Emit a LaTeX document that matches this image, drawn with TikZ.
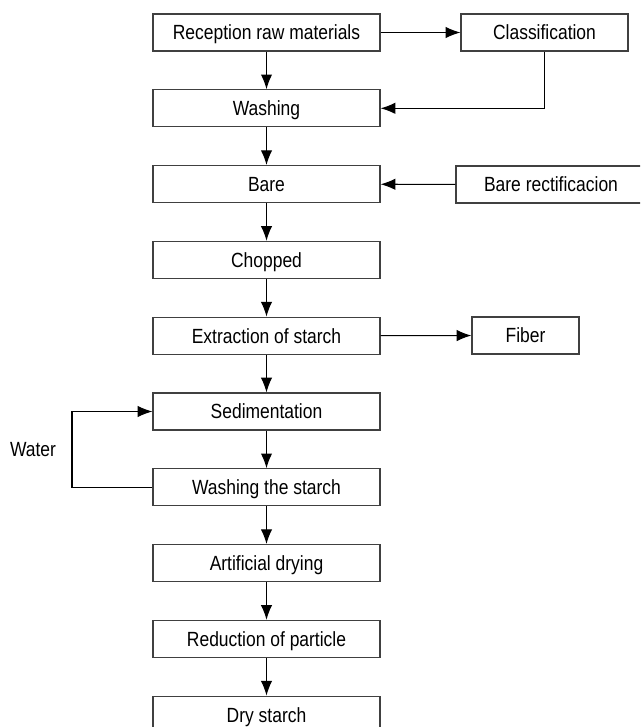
\documentclass[tikz,border=0pt]{standalone}
\usepackage{fontspec}
\setmainfont{Liberation Sans}[FakeStretch=0.85]
\usetikzlibrary{arrows.meta}
\begin{document}
\begin{tikzpicture}[x=0.75pt,y=-0.75pt,
  txt/.style={font=\fontsize{15.4}{17}\selectfont,text height=11.2pt,text depth=0pt},
  box/.style={draw=black!75,line width=0.9pt,minimum height=37*0.75pt,inner sep=0pt,txt},
  mainbox/.style={box,minimum width=227*0.75pt},
  arr/.style={line width=0.8pt,-{Latex[length=11pt,width=8.5pt]}},
  ln/.style={line width=0.8pt}]
\useasboundingbox (0,0) rectangle (640,727);
\begin{scope}
\clip (0,0) rectangle (640,727);
\foreach \n/\t [count=\i from 0] in {rec/Reception raw materials,was/Washing,bar/Bare,cho/Chopped,ext/Extraction of starch,sed/Sedimentation,wst/Washing the starch,art/Artificial drying,red/Reduction of particle,dry/Dry starch}{
  \node[mainbox] (\n) at (266.5,{14+18.5+75.8*\i}) {\t};
}
\node[box,minimum width=167*0.75pt] (cla) at (544.5,32.5) {Classification};
\node[box,minimum width=190*0.75pt] (brc) at (551,184.5) {Bare rectificacion};
\node[box,minimum width=107*0.75pt] (fib) at (525.5,335.5) {Fiber};
\node[txt] (wat) at (33,449) {Water};
\end{scope}
\draw[arr] (rec) -- (was);
\draw[arr] (was) -- (bar);
\draw[arr] (bar) -- (cho);
\draw[arr] (cho) -- (ext);
\draw[arr] (ext) -- (sed);
\draw[arr] (sed) -- (wst);
\draw[arr] (wst) -- (art);
\draw[arr] (art) -- (red);
\draw[arr] (red) -- (dry);
\draw[arr] (rec) -- (cla);
\draw[arr] (cla.south) |- (was.east);
\draw[arr] (brc) -- (bar);
\draw[arr] (ext) -- (fib);
\coordinate (lp) at (72,0);
\draw[arr] (wst.west) -- (lp |- wst.west) -- (lp |- sed.west) -- (sed.west);
\end{tikzpicture}
\end{document}
